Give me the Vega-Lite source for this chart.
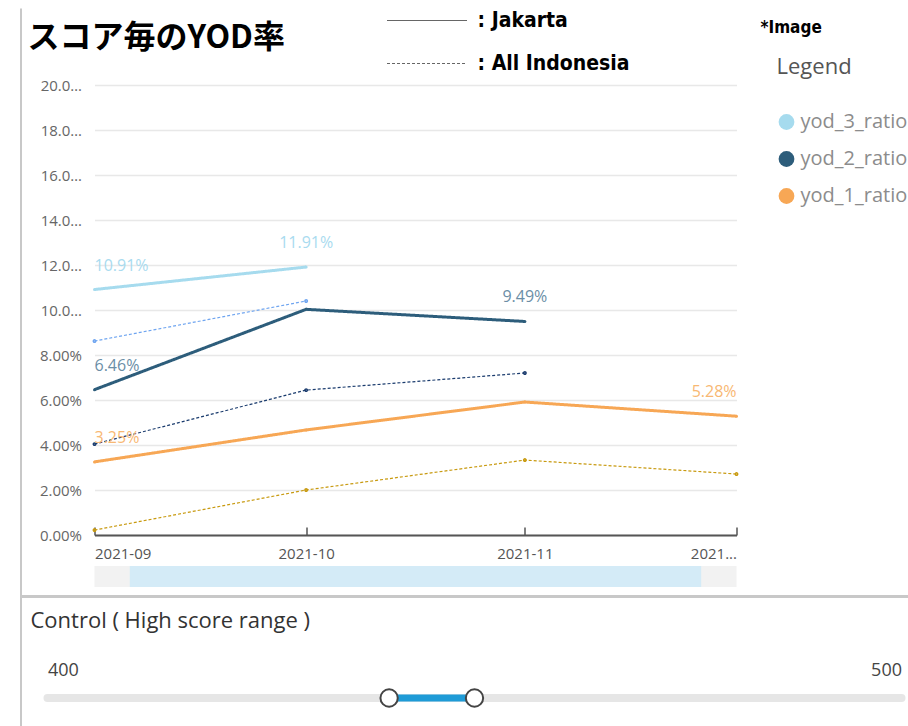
{
  "$schema": "https://vega.github.io/schema/vega-lite/v6.json",
  "padding": {"left": 20.5, "top": 10, "right": 0, "bottom": 0},
  "background": "white",
  "spacing": 31,
  "columns": 1,
  "bounds": "flush",
  "config": {"view": {"stroke": null}, "font": "Open Sans"},
  "concat": [
    {
      "width": 642,
      "height": 450,
      "title": {"text": "スコア毎のYOD率", "anchor": "start", "frame": "group", "dx": -67, "offset": 23, "font": "Noto Sans CJK JP", "fontSize": 32, "fontWeight": "bold", "color": "#000000"},
      "data": {
        "values": [
          {"month": "2021-09", "series": "yod_3_ratio", "region": "Jakarta", "ratio": 0.1091},
          {"month": "2021-10", "series": "yod_3_ratio", "region": "Jakarta", "ratio": 0.1191},
          {"month": "2021-09", "series": "yod_2_ratio", "region": "Jakarta", "ratio": 0.0646},
          {"month": "2021-10", "series": "yod_2_ratio", "region": "Jakarta", "ratio": 0.1003},
          {"month": "2021-11", "series": "yod_2_ratio", "region": "Jakarta", "ratio": 0.0949},
          {"month": "2021-09", "series": "yod_1_ratio", "region": "Jakarta", "ratio": 0.0325},
          {"month": "2021-10", "series": "yod_1_ratio", "region": "Jakarta", "ratio": 0.0467},
          {"month": "2021-11", "series": "yod_1_ratio", "region": "Jakarta", "ratio": 0.0591},
          {"month": "2021-12", "series": "yod_1_ratio", "region": "Jakarta", "ratio": 0.0528},
          {"month": "2021-09", "series": "yod_3_ratio", "region": "All Indonesia", "ratio": 0.0862},
          {"month": "2021-10", "series": "yod_3_ratio", "region": "All Indonesia", "ratio": 0.104},
          {"month": "2021-09", "series": "yod_2_ratio", "region": "All Indonesia", "ratio": 0.0404},
          {"month": "2021-10", "series": "yod_2_ratio", "region": "All Indonesia", "ratio": 0.0644},
          {"month": "2021-11", "series": "yod_2_ratio", "region": "All Indonesia", "ratio": 0.072},
          {"month": "2021-09", "series": "yod_1_ratio", "region": "All Indonesia", "ratio": 0.0022},
          {"month": "2021-10", "series": "yod_1_ratio", "region": "All Indonesia", "ratio": 0.02},
          {"month": "2021-11", "series": "yod_1_ratio", "region": "All Indonesia", "ratio": 0.0333},
          {"month": "2021-12", "series": "yod_1_ratio", "region": "All Indonesia", "ratio": 0.0271}
        ],
        "format": {"parse": {"month": "date:'%Y-%m'"}}
      },
      "resolve": {"scale": {"y": "independent"}, "axis": {"y": "independent"}},
      "layer": [
        {
          "encoding": {
            "x": {
              "field": "month", "type": "temporal", "title": null,
              "scale": {"domain": [{"year": 2021, "month": 9, "date": 1}, {"year": 2021, "month": 12, "date": 1}], "nice": false},
              "axis": {
                "values": [{"year": 2021, "month": 9, "date": 1}, {"year": 2021, "month": 10, "date": 1}, {"year": 2021, "month": 11, "date": 1}, {"year": 2021, "month": 12, "date": 1}],
                "labelExpr": "month(datum.value) == 11 ? '2021...' : timeFormat(datum.value, '%Y-%m')",
                "grid": false, "domain": true, "domainColor": "#555555", "domainWidth": 2,
                "ticks": true, "tickColor": "#555555", "tickWidth": 1.5, "tickSize": -8,
                "labelPadding": 19, "labelFontSize": 15, "labelColor": "#555555", "labelOverlap": false, "labelBound": false
              }
            },
            "y": {
              "field": "ratio", "type": "quantitative", "title": null,
              "scale": {"domain": [0, 0.2], "nice": false},
              "axis": {
                "orient": "left",
                "values": [0, 0.02, 0.04, 0.06, 0.08, 0.1, 0.12, 0.14, 0.16, 0.18, 0.2],
                "format": ".2%", "grid": true, "gridColor": "#e8e8e8", "gridWidth": 1.5,
                "domain": false, "ticks": false, "labelPadding": 13, "labelFontSize": 15,
                "labelColor": "#666666", "labelLimit": 46
              }
            }
          },
          "resolve": {"scale": {"stroke": "independent"}},
          "layer": [
            {
              "transform": [{"filter": "datum.region == 'All Indonesia'"}],
              "encoding": {
                "stroke": {"field": "series", "type": "nominal", "scale": {"domain": ["yod_3_ratio", "yod_2_ratio", "yod_1_ratio"], "range": ["#6fa5f0", "#1b3c6e", "#c89a10"]}, "legend": null}
              },
              "layer": [
                {
                  "mark": {"type": "line", "strokeWidth": 1.2},
                  "encoding": {
                    "strokeDash": {
                      "field": "region", "type": "nominal",
                      "scale": {"domain": ["Jakarta", "All Indonesia"], "range": [[1, 0], [3, 2]]},
                      "legend": {
                        "orient": "none", "legendX": 322, "legendY": -75, "direction": "vertical",
                        "title": "*Image", "titleOrient": "right", "titleAnchor": "start", "titlePadding": 131,
                        "titleBaseline": "line-top", "titleLineHeight": 36,
                        "titleFont": "DejaVu Sans Condensed", "titleFontSize": 17, "titleFontWeight": "bold", "titleColor": "#000000",
                        "symbolType": "M-4,0L4,0", "symbolSize": 400, "symbolStrokeWidth": 1, "symbolStrokeColor": "#666666",
                        "labelExpr": "': ' + datum.label", "labelFont": "DejaVu Sans Condensed", "labelFontSize": 21,
                        "labelFontWeight": "bold", "labelColor": "#000000", "labelOffset": 40, "rowPadding": 21, "labelLimit": 400
                      }
                    }
                  }
                },
                {"mark": {"type": "point", "size": 6, "strokeWidth": 1.5, "filled": false, "opacity": 1}}
              ]
            },
            {
              "transform": [{"filter": "datum.region == 'Jakarta'"}],
              "mark": {"type": "circle", "size": 9, "opacity": 1},
              "encoding": {
                "color": {
                  "field": "series", "type": "nominal",
                  "scale": {"domain": ["yod_3_ratio", "yod_2_ratio", "yod_1_ratio"], "range": ["#a6dbee", "#2d5d7b", "#f7a755"]},
                  "legend": {
                    "orient": "none", "legendX": 682, "legendY": -28, "title": "Legend",
                    "titleFontSize": 22, "titleColor": "#555555", "titleFontWeight": "normal", "titlePadding": 33,
                    "symbolType": "circle", "symbolSize": 250, "labelFontSize": 20, "labelColor": "#8c8c8c",
                    "labelOffset": 4, "rowPadding": 17, "labelLimit": 300
                  }
                }
              }
            },
            {
              "transform": [{"filter": "datum.region == 'Jakarta'"}],
              "mark": {"type": "line", "strokeWidth": 3},
              "encoding": {
                "stroke": {"field": "series", "type": "nominal", "scale": {"domain": ["yod_3_ratio", "yod_2_ratio", "yod_1_ratio"], "range": ["#a6dbee", "#2d5d7b", "#f7a755"]}, "legend": null},
                "strokeDash": {"field": "region", "type": "nominal", "scale": {"domain": ["Jakarta", "All Indonesia"], "range": [[1, 0], [3, 2]]}}
              }
            },
            {
              "transform": [
                {"filter": "datum.region == 'Jakarta'"},
                {"joinaggregate": [{"op": "min", "field": "month", "as": "first"}, {"op": "max", "field": "month", "as": "last"}], "groupby": ["series"]}
              ],
              "encoding": {
                "text": {"field": "ratio", "type": "quantitative", "format": ".2%"},
                "fill": {"field": "series", "type": "nominal", "scale": {"domain": ["yod_3_ratio", "yod_2_ratio", "yod_1_ratio"], "range": ["#a9dbef", "#6b8ea6", "#f8b873"]}, "legend": null}
              },
              "layer": [
                {"transform": [{"filter": "time(datum.month) == time(datum.first)"}], "mark": {"type": "text", "align": "left", "baseline": "middle", "dy": -24, "fontSize": 16}},
                {"transform": [{"filter": "time(datum.month) == time(datum.last) && month(datum.month) != 11"}], "mark": {"type": "text", "align": "center", "baseline": "middle", "dy": -24, "fontSize": 16}},
                {"transform": [{"filter": "time(datum.month) == time(datum.last) && month(datum.month) == 11"}], "mark": {"type": "text", "align": "right", "baseline": "middle", "dy": -24, "fontSize": 16}}
              ]
            }
          ]
        },
        {
          "mark": {"type": "point", "opacity": 0},
          "encoding": {
            "y": {"field": "ratio", "type": "quantitative", "title": null,
              "scale": {"domain": [0, 0.2], "range": [641, -77], "nice": false},
              "axis": {"orient": "left", "offset": 74, "domain": true, "domainColor": "#c8c8c8", "domainWidth": 2, "ticks": false, "labels": false, "grid": false, "title": null}}
          }
        }
      ]
    },
    {
      "columns": 1,
      "spacing": 101,
      "bounds": "flush",
      "concat": [
        {
          "width": 642,
          "height": 21,
          "data": {
            "values": [
              {"bar": "scroll", "part": "range", "start": "2021-09-01", "end": "2021-12-01"},
              {"bar": "scroll", "part": "selected", "start": "2021-09-06", "end": "2021-11-26"}
            ],
            "format": {"parse": {"start": "date:'%Y-%m-%d'", "end": "date:'%Y-%m-%d'"}}
          },
          "encoding": {
            "y": {"field": "bar", "type": "nominal", "title": null, "scale": {"paddingInner": 0, "paddingOuter": 0}, "axis": null}
          },
          "resolve": {"scale": {"x": "independent"}, "axis": {"x": "independent"}},
          "layer": [
            {
              "transform": [{"filter": "datum.part == 'range'"}],
              "mark": {"type": "rect", "color": "#f2f2f2"},
              "encoding": {
                "x": {"field": "start", "type": "temporal", "title": null, "scale": {"domain": [{"year": 2021, "month": 9, "date": 1}, {"year": 2021, "month": 12, "date": 1}], "nice": false}, "axis": null},
                "x2": {"field": "end"}
              }
            },
            {
              "transform": [{"filter": "datum.part == 'selected'"}],
              "mark": {"type": "rect", "color": "#d4ebf7"},
              "encoding": {
                "x": {"field": "start", "type": "temporal", "title": null, "scale": {"domain": [{"year": 2021, "month": 9, "date": 1}, {"year": 2021, "month": 12, "date": 1}], "nice": false}, "axis": null},
                "x2": {"field": "end"}
              }
            },
            {
              "transform": [{"filter": "datum.part == 'range'"}],
              "mark": {"type": "rect", "opacity": 0},
              "encoding": {
                "x": {"field": "start", "type": "temporal", "title": null,
                  "scale": {"domain": [{"year": 2021, "month": 9, "date": 1}, {"year": 2021, "month": 12, "date": 1}], "range": [-74, 814], "nice": false},
                  "axis": {"orient": "bottom", "offset": 9, "domain": true, "domainColor": "#c8c8c8", "domainWidth": 3, "ticks": false, "labels": false, "grid": false, "title": null}},
                "x2": {"field": "end"}
              }
            }
          ]
        },
        {
          "width": 807,
          "height": 20,
          "title": {"text": "Control ( High score range )", "anchor": "start", "frame": "group", "dx": -64, "offset": 28, "fontSize": 22, "fontWeight": "normal", "color": "#333333", "font": "Open Sans"},
          "data": {"values": [{"control": "High score range", "min": 400, "max": 500, "low": 440, "high": 450}]},
          "encoding": {
            "y": {"field": "control", "type": "nominal", "title": null, "axis": null}
          },
          "layer": [
            {
              "mark": {"type": "rule", "strokeWidth": 8, "strokeCap": "round", "color": "#e6e6e6", "clip": false},
              "encoding": {
                "x": {"field": "min", "type": "quantitative", "title": null, "scale": {"domain": [400, 500], "range": [-47, 807], "nice": false, "zero": false},
                  "axis": {"orient": "top", "values": [400, 500], "labelFlush": true, "domain": false, "ticks": false, "grid": false, "labelFontSize": 18, "labelColor": "#444444", "labelPadding": 9}},
                "x2": {"field": "max"}
              }
            },
            {
              "mark": {"type": "rule", "strokeWidth": 7, "color": "#1e9bd7"},
              "encoding": {
                "x": {"field": "low", "type": "quantitative", "title": null,
                  "axis": {"orient": "top", "values": [400, 500], "labelFlush": true, "domain": false, "ticks": false, "grid": false, "labelFontSize": 18, "labelColor": "#444444", "labelPadding": 9}},
                "x2": {"field": "high"}
              }
            },
            {
              "transform": [{"fold": ["low", "high"], "as": ["handle", "score"]}],
              "mark": {"type": "point", "filled": true, "fill": "white", "stroke": "#444444", "strokeWidth": 2, "size": 300, "opacity": 1},
              "encoding": {"x": {"field": "score", "type": "quantitative", "title": null,
                "axis": {"orient": "top", "values": [400, 500], "labelFlush": true, "domain": false, "ticks": false, "grid": false, "labelFontSize": 18, "labelColor": "#444444", "labelPadding": 9}}}
            }
          ]
        }
      ]
    }
  ]
}
